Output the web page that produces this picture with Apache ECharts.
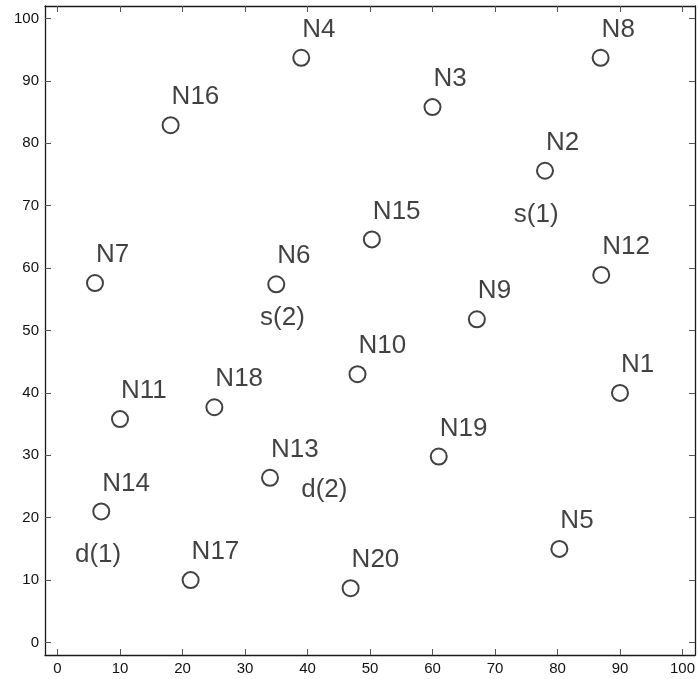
<!DOCTYPE html>
<html>
<head>
<meta charset="utf-8">
<script src="https://cdn.jsdelivr.net/npm/echarts@6/dist/echarts.min.js"></script>
<style>
  html, body { margin: 0; padding: 0; background: #fff; }
  #chart { width: 698px; height: 679px; }
</style>
</head>
<body>
<div id="chart"></div>
<script>
// Node names and coordinates
const nodeNames = ['N1','N2','N3','N4','N5','N6','N7','N8','N9','N10',
                   'N11','N12','N13','N14','N15','N16','N17','N18','N19','N20'];
const nodeX = [90, 78, 60, 39, 80.3, 35, 6, 86.9, 67.1, 48,
               10, 87, 34, 7, 50.3, 18.1, 21.3, 25.1, 61, 46.9];
const nodeY = [40, 75.6, 85.8, 93.7, 15, 57.4, 57.6, 93.7, 51.8, 43,
               35.8, 58.9, 26.4, 21, 64.6, 82.9, 10, 37.7, 29.8, 8.7];

// Free-standing annotations
const noteText = ['s(1)', 's(2)', 'd(1)', 'd(2)'];
const noteX = [76.6, 36.0, 6.5, 42.7];
const noteY = [68.5, 52.1, 14.0, 24.4];

// Tick values shown on both axes
const tickValues = [0, 10, 20, 30, 40, 50, 60, 70, 80, 90, 100];

const FONT = 'Liberation Sans, Arial, Helvetica, sans-serif';

const nodeData = nodeNames.map((n, i) => ({ name: n, value: [nodeX[i], nodeY[i]] }));
const noteData = noteText.map((t, i) => ({ name: t, value: [noteX[i], noteY[i]] }));

function axisCommon(showLabels) {
  return {
    type: 'value',
    min: -2,
    max: 102,
    splitLine: { show: false },
    axisLine: { show: true, onZero: false, lineStyle: { color: '#1a1a1a', width: 1.3 } },
    axisTick: {
      show: true, inside: true, length: 6,
      customValues: tickValues,
      lineStyle: { color: '#555', width: 1 }
    },
    axisLabel: showLabels ? {
      show: true, customValues: tickValues,
      color: '#111', fontSize: 15, fontFamily: FONT, margin: 6
    } : { show: false }
  };
}

const chart = echarts.init(document.getElementById('chart'), null, { renderer: 'canvas' });
chart.setOption({
  animation: false,
  backgroundColor: '#fff',
  grid: { left: 45, right: 2, top: 6, bottom: 24, containLabel: false },
  xAxis: [
    Object.assign(axisCommon(true), { position: 'bottom' }),
    Object.assign(axisCommon(false), { position: 'top' })
  ],
  yAxis: [
    Object.assign(axisCommon(true), { position: 'left' }),
    Object.assign(axisCommon(false), { position: 'right' })
  ],
  series: [
    {
      type: 'scatter',
      data: nodeData,
      symbol: 'circle',
      symbolSize: 16,
      itemStyle: { color: 'rgba(0,0,0,0)', borderColor: '#111', borderWidth: 2 },
      emphasis: { disabled: true },
      label: {
        show: true,
        formatter: p => p.name,
        position: 'inside',
        align: 'left',
        verticalAlign: 'bottom',
        offset: [1, -15],
        color: '#111',
        fontSize: 26,
        fontFamily: FONT
      }
    },
    {
      type: 'scatter',
      data: noteData,
      symbol: 'circle',
      symbolSize: 1,
      itemStyle: { color: 'rgba(0,0,0,0)' },
      emphasis: { disabled: true },
      label: {
        show: true,
        formatter: p => p.name,
        position: 'inside',
        align: 'center',
        verticalAlign: 'middle',
        color: '#111',
        fontSize: 26,
        fontFamily: FONT
      }
    }
  ]
});
</script>
</body>
</html>
